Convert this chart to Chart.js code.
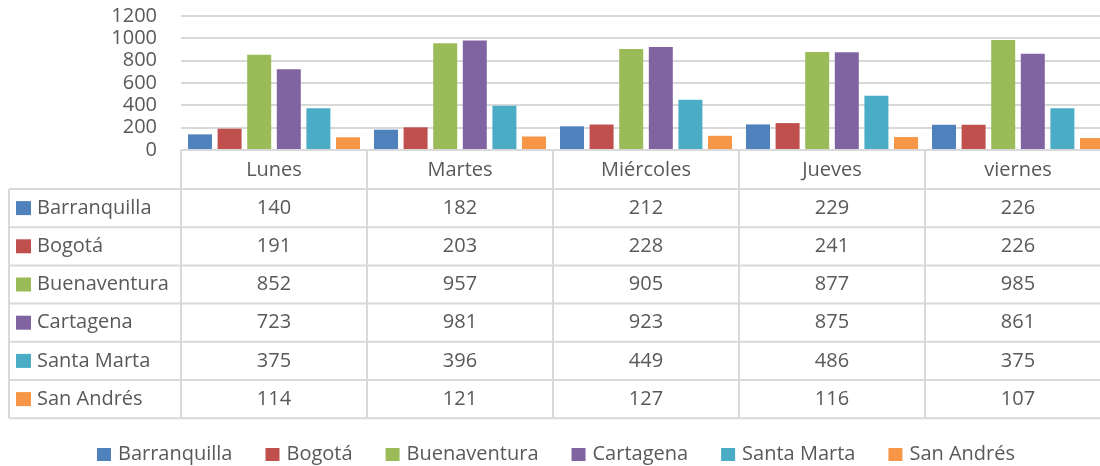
<!DOCTYPE html>
<html>
<head>
<meta charset="utf-8">
<script src="https://cdn.jsdelivr.net/npm/chart.js@4/dist/chart.umd.min.js"></script>
<style>
html,body{margin:0;padding:0;overflow:hidden;background:#fff;width:1100px;height:466px;}
canvas{display:block;}
</style>
</head>
<body>
<canvas id="c" width="1111" height="466"></canvas>
<script>
const categories = ['Lunes', 'Martes', 'Miércoles', 'Jueves', 'viernes'];
const seriesNames = ['Barranquilla', 'Bogotá', 'Buenaventura', 'Cartagena', 'Santa Marta', 'San Andrés'];
const barranquilla = [140, 182, 212, 229, 226];
const bogota = [191, 203, 228, 241, 226];
const buenaventura = [852, 957, 905, 877, 985];
const cartagena = [723, 981, 923, 875, 861];
const santaMarta = [375, 396, 449, 486, 375];
const sanAndres = [114, 121, 127, 116, 107];
const yTicks = [0, 200, 400, 600, 800, 1000, 1200];

const colors = ['#4F81BD', '#C0504D', '#9BBB59', '#8064A2', '#4BACC6', '#F79646'];
const seriesValues = [barranquilla, bogota, buenaventura, cartagena, santaMarta, sanAndres];
const FONT = '"Open Sans", sans-serif';
const TEXT = '#595959';
const LINE = '#d9d9d9';

const tablePlugin = {
  id: 'dataTable',
  afterDraw(chart) {
    const ctx = chart.ctx;
    const ca = chart.chartArea;
    const n = categories.length;
    const w = (ca.right - ca.left) / n;
    const top = ca.bottom;
    const headerH = 39;
    const rowH = 38.2;
    const tableLeft = 9;
    const rows = chart.data.datasets.length;
    const bottom = top + headerH + rows * rowH;
    ctx.save();
    ctx.strokeStyle = LINE;
    ctx.lineWidth = 2;
    ctx.beginPath();
    ctx.moveTo(ca.left, top); ctx.lineTo(ca.right, top);
    for (let r = 0; r <= rows; r++) {
      const y = top + headerH + r * rowH;
      ctx.moveTo(tableLeft, y); ctx.lineTo(ca.right, y);
    }
    for (let i = 0; i <= n; i++) {
      const x = ca.left + i * w;
      ctx.moveTo(x, top); ctx.lineTo(x, bottom);
    }
    ctx.moveTo(tableLeft, top + headerH); ctx.lineTo(tableLeft, bottom);
    ctx.stroke();

    ctx.font = '20px ' + FONT;
    ctx.fillStyle = TEXT;
    ctx.textBaseline = 'middle';
    ctx.textAlign = 'center';
    for (let i = 0; i < n; i++) {
      const cx = ca.left + (i + 0.5) * w;
      ctx.fillText(categories[i], cx, top + headerH / 2 + 1);
    }
    chart.data.datasets.forEach((ds, r) => {
      const cy = top + headerH + (r + 0.5) * rowH;
      ctx.fillStyle = ds.backgroundColor;
      ctx.fillRect(16, cy - 7, 15, 14);
      ctx.fillStyle = TEXT;
      ctx.textAlign = 'left';
      ctx.fillText(ds.label, 37, cy);
      ctx.textAlign = 'center';
      for (let i = 0; i < n; i++) {
        const cx = ca.left + (i + 0.5) * w;
        ctx.fillText(String(ds.data[i]), cx, cy);
      }
    });

    const ly = 454;
    const box = 14, gapBox = 7, gapItem = 33;
    const widths = chart.data.datasets.map(ds => ctx.measureText(ds.label).width);
    let total = 0;
    widths.forEach((tw, i) => { total += box + gapBox + tw + (i < widths.length - 1 ? gapItem : 0); });
    let x = 556 - total / 2;
    ctx.textAlign = 'left';
    chart.data.datasets.forEach((ds, i) => {
      ctx.fillStyle = ds.backgroundColor;
      ctx.fillRect(x, ly - 6, box, 13);
      ctx.fillStyle = TEXT;
      ctx.fillText(ds.label, x + box + gapBox, ly);
      x += box + gapBox + widths[i] + gapItem;
    });
    ctx.restore();
  }
};

new Chart(document.getElementById('c'), {
  type: 'bar',
  data: {
    labels: categories,
    datasets: seriesNames.map((name, i) => ({
      label: name,
      data: seriesValues[i],
      backgroundColor: colors[i],
      borderWidth: 0,
      categoryPercentage: 0.955,
      barPercentage: 0.81
    }))
  },
  options: {
    responsive: false,
    animation: false,
    devicePixelRatio: 1,
    layout: { padding: { top: 16, bottom: 316, left: 0, right: 0 } },
    plugins: { legend: { display: false }, tooltip: { enabled: false } },
    scales: {
      x: { display: false, offset: true, grid: { display: false } },
      y: {
        min: 0, max: 1200,
        afterFit(scale) { scale.width = 181; scale.paddingTop = 0; scale.paddingBottom = 0; },
        afterBuildTicks(scale) { scale.ticks = yTicks.map(v => ({ value: v })); },
        border: { display: false },
        grid: { color: LINE, lineWidth: 2, drawTicks: false },
        ticks: { padding: 24, color: TEXT, autoSkip: false, font: { family: FONT, size: 20, lineHeight: 1 },
                 callback: v => String(v) }
      }
    }
  },
  plugins: [tablePlugin]
});
</script>
</body>
</html>
